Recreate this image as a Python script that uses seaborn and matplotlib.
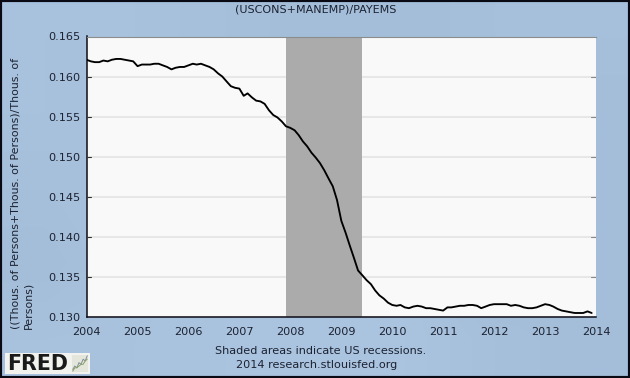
import numpy as np
import pandas as pd
import matplotlib.pyplot as plt
import seaborn as sns

# monthly values, one list per year
y2004 = [.1621, .1619, .1618, .1618, .1620, .1619, .1621, .1622, .1622, .1621, .1620, .1619]
y2005 = [.1613, .1615, .1615, .1615, .1616, .1616, .1614, .1612, .1609, .1611, .1612, .1612]
y2006 = [.1614, .1616, .1615, .1616, .1614, .1612, .1609, .1604, .1600, .1594, .1588, .1586]
y2007 = [.1585, .1576, .1579, .1574, .1570, .1569, .1566, .1558, .1552, .1549, .1544, .1538]
y2008 = [.1536, .1533, .1527, .1519, .1513, .1505, .1499, .1492, .1483, .1473, .1463, .1446]
y2009 = [.1420, .1405, .1390, .1374, .1358, .1352, .1346, .1341, .1333, .1327, .1323, .1318]
y2010 = [.1315, .1314, .1315, .1312, .1311, .1313, .1314, .1313, .1311, .1311, .1310, .1309]
y2011 = [.1308, .1312, .1312, .1313, .1314, .1314, .1315, .1315, .1314, .1311, .1313, .1315]
y2012 = [.1316, .1316, .1316, .1316, .1314, .1315, .1314, .1312, .1311, .1311, .1312, .1314]
y2013 = [.1316, .1315, .1313, .1310, .1308, .1307, .1306, .1305, .1305, .1305, .1307, .1305]

recession_start = '2007-12-01'
recession_end = '2009-06-01'
year_ticks = [2004, 2005, 2006, 2007, 2008, 2009, 2010, 2011, 2012, 2013, 2014]
y_ticks = [0.130, 0.135, 0.140, 0.145, 0.150, 0.155, 0.160, 0.165]
# the ticks on the x axis alternate between thin dark and thick pale
pale_years = [2005, 2007, 2010, 2013]

# small chart inside the logo
logo_a = [1, 3, 2, 5, 4, 7, 6, 9]
logo_b = [0, 2, 2, 3, 4, 4, 6, 7]

W, H = 630, 378
TEXT = '#1c2230'

df = pd.DataFrame({
    'date': pd.date_range('2004-01-01', periods=120, freq='MS'),
    'value': y2004 + y2005 + y2006 + y2007 + y2008 + y2009 + y2010 + y2011 + y2012 + y2013,
})

sns.set_style('white')
plt.rcParams['font.family'] = ['DejaVu Sans']

fig = plt.figure(figsize=(W / 100, H / 100), dpi=100)

# background gradient and black border
bg = fig.add_axes([0, 0, 1, 1], zorder=0)
shade = np.array([
    [168, 168, 166, 164, 164, 166, 166],
    [168, 166, 162, 170, 170, 160, 164],
    [166, 168, 170, 170, 170, 160, 164],
    [164, 168, 170, 170, 170, 162, 164],
    [168, 169, 170, 170, 170, 166, 164],
])
rgb = np.dstack([shade, shade + 26, shade + 54]) / 255
bg.imshow(rgb, aspect='auto', interpolation='bilinear', extent=[0, 1, 0, 1])
bg.set_xticks([])
bg.set_yticks([])
for s in bg.spines.values():
    s.set_visible(True)
    s.set_color('#0a0a14')
    s.set_linewidth(3)

ax = fig.add_axes([86.5 / W, 1 - 317 / H, (596 - 86.5) / W, (317 - 36.5) / H], zorder=1)
ax.set_facecolor('#f9f9f9')
ax.axvspan(pd.Timestamp(recession_start), pd.Timestamp(recession_end), color='#ababab', lw=0, zorder=2)
sns.lineplot(data=df, x='date', y='value', color='black', linewidth=1.35, ax=ax, zorder=3)

ax.set_xlim(pd.Timestamp('2004-01-01'), pd.Timestamp('2014-01-01'))
ax.set_ylim(0.130, 0.165)
ax.set_xticks([pd.Timestamp(f'{y}-01-01') for y in year_ticks])
ax.set_xticklabels([str(y) for y in year_ticks])
ax.set_yticks(y_ticks)
ax.set_yticklabels([f'{v:.3f}' for v in y_ticks])
ax.set_xlabel('')
ax.set_ylabel('')
ax.grid(axis='y', color='#e7e7e7', linewidth=1.5, zorder=1)
ax.set_axisbelow(True)
ax.tick_params(axis='y', length=0, labelsize=8.1, labelcolor=TEXT, pad=4.5)
ax.tick_params(axis='x', direction='in', length=3.5, width=0.8, color='#111111',
               labelsize=8.1, labelcolor=TEXT, pad=7)
for tick, year in zip(ax.xaxis.get_major_ticks(), year_ticks):
    if year in pale_years:
        tick.tick1line.set_color('#c8c8c8')
        tick.tick1line.set_markeredgewidth(1.6)

# small marks at both ends of the gridlines
for v in y_ticks[1:-1]:
    ax.plot([0, 0.009], [v, v], transform=ax.get_yaxis_transform(), color='#333333', lw=0.8, zorder=4)
    ax.plot([0.99, 1], [v, v], transform=ax.get_yaxis_transform(), color='#8a8a8a', lw=0.8, zorder=4)

for side in ['left', 'bottom']:
    ax.spines[side].set_color('#0c0c14')
    ax.spines[side].set_linewidth(1.1)
ax.spines['top'].set_color('#8c8c8c')
ax.spines['top'].set_linewidth(0.8)
ax.spines['right'].set_visible(False)

fig.text(316 / W, 1 - 10 / H, '(USCONS+MANEMP)/PAYEMS', ha='center', va='center',
         fontsize=8.0, color=TEXT, zorder=5)
fig.text(22 / W, 1 - 329 / H, '((Thous. of Persons+Thous. of Persons)/Thous. of\nPersons)',
         rotation=90, ha='center', va='bottom', multialignment='left',
         fontsize=7.95, linespacing=1.25, color=TEXT, zorder=5)
fig.text(321 / W, 1 - 351 / H, 'Shaded areas indicate US recessions.', ha='center', va='center',
         fontsize=8.15, color=TEXT, zorder=5)
fig.text(317 / W, 1 - 365 / H, '2014 research.stlouisfed.org', ha='center', va='center',
         fontsize=8.15, color=TEXT, zorder=5)

# FRED logo
logo = fig.add_axes([5 / W, 1 - 374 / H, 85 / W, 21 / H], zorder=5)
logo.set_facecolor('#f2f2ee')
logo.set_xticks([])
logo.set_yticks([])
sns.despine(ax=logo, left=True, bottom=True)
logo.text(0.02, 0.46, 'FRED', transform=logo.transAxes, ha='left', va='center',
          fontsize=14.8, fontweight='bold', color='#1a1a1a')
icon = fig.add_axes([72 / W, 1 - 372 / H, 16 / W, 17 / H], zorder=6)
icon.set_facecolor('#e4e6dc')
icon.plot(logo_a, color='#7d8f96', lw=0.7)
icon.plot(logo_b, color='#8ca06a', lw=0.7)
icon.set_xticks([])
icon.set_yticks([])
sns.despine(ax=icon, left=True, bottom=True)

fig.savefig('out.png', dpi=100)
